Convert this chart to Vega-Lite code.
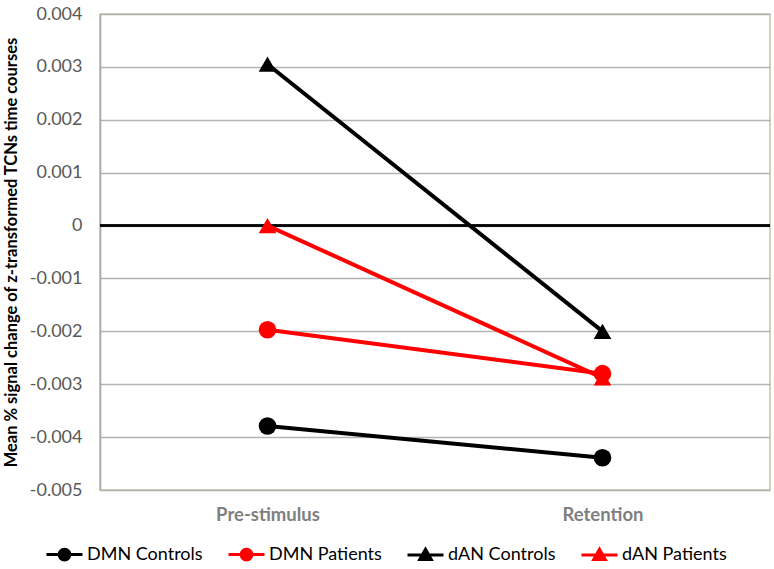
{
  "$schema": "https://vega.github.io/schema/vega-lite/v6.json",
  "width": 670,
  "height": 476,
  "autosize": {"type": "none"},
  "padding": {"left": 100, "top": 14, "right": 4, "bottom": 79},
  "background": "white",
  "config": {
    "font": "Lato",
    "view": {"stroke": "#c9c4a0", "strokeWidth": 1.5},
    "legend": {
      "orient": "none",
      "direction": "horizontal",
      "legendX": -55,
      "legendY": 521,
      "columnPadding": 19,
      "labelFont": "Lato",
      "labelFontSize": 18,
      "labelColor": "#000000",
      "labelOffset": 3,
      "symbolSize": 1296,
      "symbolStrokeWidth": 3
    }
  },
  "data": {
    "values": [
      {"phase": "Pre-stimulus", "series": "DMN Controls", "value": -0.00379},
      {"phase": "Retention", "series": "DMN Controls", "value": -0.00439},
      {"phase": "Pre-stimulus", "series": "DMN Patients", "value": -0.00197},
      {"phase": "Retention", "series": "DMN Patients", "value": -0.0028},
      {"phase": "Pre-stimulus", "series": "dAN Controls", "value": 0.00305},
      {"phase": "Retention", "series": "dAN Controls", "value": -0.002},
      {"phase": "Pre-stimulus", "series": "dAN Patients", "value": 0.0},
      {"phase": "Retention", "series": "dAN Patients", "value": -0.00288}
    ]
  },
  "encoding": {
    "x": {
      "field": "phase",
      "type": "nominal",
      "sort": ["Pre-stimulus", "Retention"],
      "scale": {"type": "point", "padding": 0.5},
      "axis": {
        "title": null,
        "labelAngle": 0,
        "ticks": false,
        "domain": false,
        "labelFont": "Lato",
        "labelFontWeight": "bold",
        "labelFontSize": 18.5,
        "labelColor": "#7f7f7f",
        "labelPadding": 15
      }
    },
    "y": {
      "field": "value",
      "type": "quantitative",
      "scale": {"domain": [-0.005, 0.004], "nice": false, "zero": false},
      "axis": {
        "values": [-0.005, -0.004, -0.003, -0.002, -0.001, 0, 0.001, 0.002, 0.003, 0.004],
        "labelExpr": "datum.value == 0 ? '0' : replace(format(datum.value, '.3f'), '\u2212', '-')",
        "title": "Mean % signal change of z-transformed TCNs time courses",
        "titleFont": "Lato",
        "titleFontWeight": "bold",
        "titleFontSize": 16.5,
        "titleColor": "#000000",
        "titlePadding": 10,
        "labelFont": "Lato",
        "labelFontSize": 18,
        "labelColor": "#595959",
        "labelPadding": 18,
        "ticks": false,
        "domainColor": "#a6a6a6",
        "domainWidth": 1.5,
        "gridColor": "#b3b3b3",
        "gridWidth": 1.5
      }
    },
    "color": {
      "field": "series",
      "type": "nominal",
      "scale": {
        "domain": ["DMN Controls", "DMN Patients", "dAN Controls", "dAN Patients"],
        "range": ["#000000", "#ff0000", "#000000", "#ff0000"]
      },
      "legend": {
        "title": null,
        "encode": {
          "symbols": {
            "update": {
              "shape": {"signal": "indexof(datum.value, 'DMN') == 0 ? 'M-1,0H1M0.3,0A0.3,0.3,0,1,1,-0.3,0A0.3,0.3,0,1,1,0.3,0Z' : 'M-1,0H1M0,-0.32L0.32,0.24L-0.32,0.24Z'"},
              "stroke": {"signal": "scale('color', datum.value)"},
              "fill": {"signal": "scale('color', datum.value)"},
              "strokeWidth": {"value": 3},
              "opacity": {"value": 1}
            }
          }
        }
      }
    }
  },
  "layer": [
    {
      "mark": {"type": "rule", "color": "#000000", "strokeWidth": 1.5},
      "encoding": {"y": {"datum": 0}, "x": {"value": 0}, "x2": {"value": 670}, "color": {"value": "#000000"}}
    },
    {
      "mark": {"type": "line", "strokeWidth": 4},
      "encoding": {
        "detail": {"field": "series"}
      }
    },
    {
      "transform": [{"filter": "indexof(datum.series, 'DMN') == 0"}],
      "mark": {"type": "point", "shape": "circle", "filled": true, "opacity": 1, "size": 310}
    },
    {
      "transform": [{"filter": "indexof(datum.series, 'dAN') == 0"}],
      "mark": {"type": "point", "shape": "triangle-up", "filled": true, "opacity": 1, "size": 310}
    }
  ]
}
